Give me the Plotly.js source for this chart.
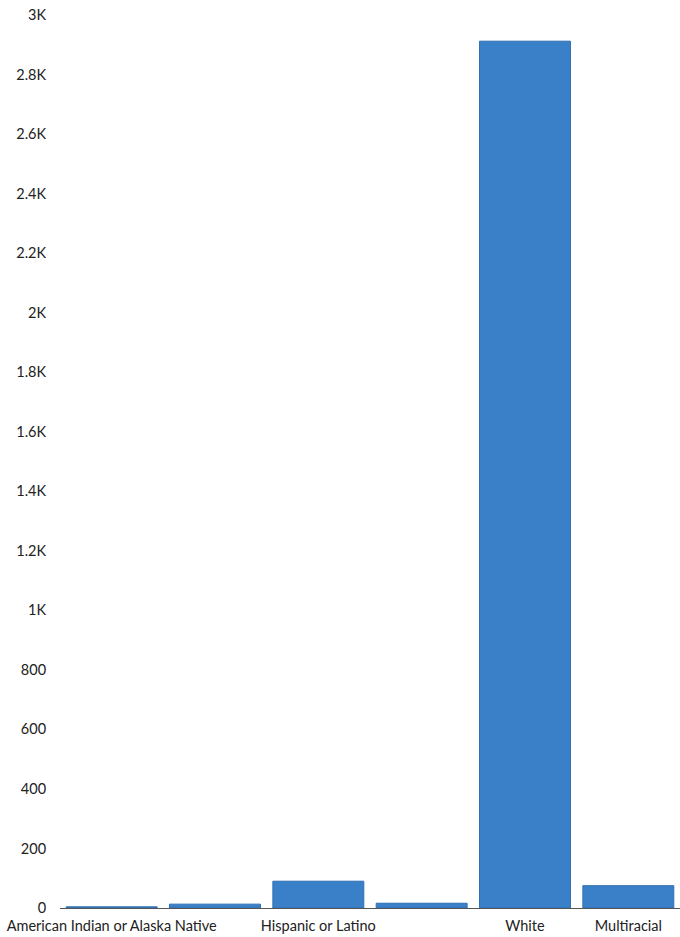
<!DOCTYPE html>
<html>
<head>
<meta charset="utf-8">
<script src="https://cdn.plot.ly/plotly-3.0.1.min.js"></script>
<style>html,body{margin:0;padding:0;background:#fff;}#chart{width:680px;height:937px;}</style>
</head>
<body>
<div id="chart"></div>
<script>
const categories = ["American Indian or Alaska Native", "Black or African American", "Hispanic or Latino", "Native Hawaiian or Other Pacific Islander", "White", "Multiracial"];
const counts = [4, 13, 90, 16, 2912, 75];
const shownLabels = ["American Indian or Alaska Native", "Hispanic or Latino", "White", "Multiracial"];
const yTickVals = [0, 200, 400, 600, 800, 1000, 1200, 1400, 1600, 1800, 2000, 2200, 2400, 2600, 2800, 3000];
const yTickText = ["0", "200", "400", "600", "800", "1K", "1.2K", "1.4K", "1.6K", "1.8K", "2K", "2.2K", "2.4K", "2.6K", "2.8K", "3K"];

Plotly.newPlot('chart', [{
  type: 'bar',
  x: categories,
  y: counts,
  marker: {color: '#3a80c8', line: {color: '#2f6fb3', width: 1}},
  hoverinfo: 'x+y'
}], {
  width: 680, height: 937,
  margin: {l: 60, r: 0, t: 15, b: 29},
  paper_bgcolor: '#fff', plot_bgcolor: '#fff',
  bargap: 0.12,
  font: {family: 'Lato, sans-serif', size: 14.5, color: '#222'},
  xaxis: {
    type: 'category',
    tickmode: 'array', tickvals: shownLabels, ticktext: shownLabels,
    tickangle: 0, showgrid: false, showline: false,
    ticks: 'outside', ticklen: 5, tickcolor: 'rgba(0,0,0,0)',
    tickfont: {size: 14.5}
  },
  yaxis: {
    range: [0, 3000], tickmode: 'array', tickvals: yTickVals, ticktext: yTickText,
    showgrid: false, zeroline: true, zerolinecolor: '#555', zerolinewidth: 1,
    ticks: 'outside', ticklen: 10, tickcolor: 'rgba(0,0,0,0)',
    tickfont: {size: 14.5}
  },
  showlegend: false
}, {displayModeBar: false, staticPlot: true});
</script>
</body>
</html>
